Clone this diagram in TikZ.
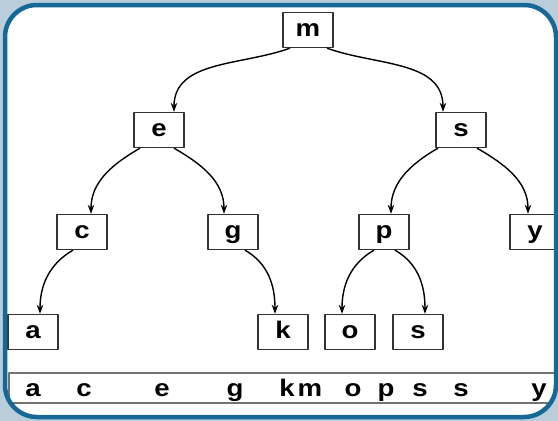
\documentclass[tikz,border=0pt]{standalone}
\usepackage{fontspec}
\setmainfont{Liberation Sans}[FakeStretch=1.15]
\usetikzlibrary{arrows.meta}
\definecolor{frameblue}{RGB}{22,104,150}
\definecolor{backdrop}{RGB}{185,205,218}
\begin{document}
\begin{tikzpicture}[x=1pt,y=1pt,font=\fontsize{24}{26}\selectfont\bfseries,line join=round,>={Stealth[length=9pt,width=6.5pt]},
	box/.style={draw=black!80,line width=1.3pt,minimum width=50pt,minimum height=35pt,inner sep=0pt,text height=15pt,text depth=3pt},
	link/.style={->,line width=1.4pt}]
		\useasboundingbox (0,0) rectangle (558,-421);
		\fill[backdrop] (0,0) rectangle (558,-421);
		\fill[white,rounded corners=32pt] (5,-5) rectangle (556,-417);
		\node[box] (m) at (308,-30) {m};
		\node[box] (e) at (159,-130) {e};
		\node[box] (s) at (461,-130) {s};
		\node[box] (c) at (82,-232) {c};
		\node[box] (g) at (233,-232) {g};
		\node[box] (p) at (384,-232) {p};
		\node[box] (y) at (535,-232) {y};
		\node[box] (a) at (33,-332) {a};
		\node[box] (k) at (283,-332) {k};
		\node[box] (o) at (350,-332) {o};
		\node[box] (s2) at (418,-332) {s};
		\draw[link] ([xshift=-18pt]m.south) to[out=200,in=90] ([xshift=15pt]e.north);
		\draw[link] ([xshift=19pt]m.south) to[out=-20,in=90] ([xshift=-18pt]s.north);
		\draw[link] ([xshift=-19pt]e.south) to[out=210,in=90] ([xshift=9pt]c.north);
		\draw[link] ([xshift=15pt]e.south) to[out=-30,in=90] ([xshift=-9pt]g.north);
		\draw[link] ([xshift=-23pt]s.south) to[out=210,in=90] ([xshift=7pt]p.north);
		\draw[link] ([xshift=16pt]s.south) to[out=-30,in=90] ([xshift=-7pt]y.north);
		\draw[link] ([xshift=-9pt]c.south) to[out=210,in=90] ([xshift=7pt]a.north);
		\draw[link] ([xshift=12pt]g.south) to[out=-30,in=90] ([xshift=-8pt]k.north);
		\draw[link] ([xshift=-10pt]p.south) to[out=210,in=90] ([xshift=-8pt]o.north);
		\draw[link] ([xshift=11pt]p.south) to[out=-30,in=90] ([xshift=7pt]s2.north);
		\draw[black!55,line width=1.2pt] (556,-373) -- (9,-373) -- (9,-403) -- (553,-403);
		\foreach \t/\x [count=\i] in {a/33,c/84,e/162,g/235,k/287,m/310,o/353,p/386,s/420,s/461,y/539}
			\node[anchor=base] (l\i) at (\x,-396) {\t};
		\draw[frameblue,line width=4.5pt,rounded corners=32pt] (5,-5) rectangle (556,-417);
	\end{tikzpicture}
\end{document}
